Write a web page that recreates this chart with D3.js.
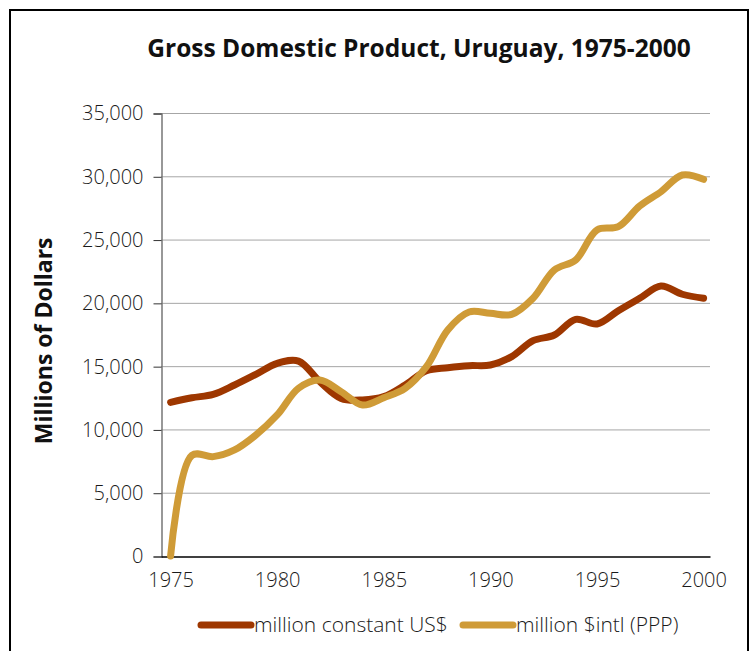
<!DOCTYPE html>
<html>
<head>
<meta charset="utf-8">
<script src="https://cdn.jsdelivr.net/npm/d3@7"></script>
<style>
  body { margin: 0; background: #fff; }
  text { font-family: "Open Sans", "DejaVu Sans", sans-serif; }
</style>
</head>
<body>
<div id="chart_root"></div>
<script>
const widthValue = 753;
const heightValue = 651;
const pad = { left: 161, right: 43, top: 113, bottom: 95 };

const years = d3.range(1975, 2001);
const constantUSD = [12140, 12500, 12770, 13510, 14350, 15220, 15400, 13770, 12450, 12330,
  12590, 13510, 14640, 14880, 15040, 15090, 15750, 17010, 17460, 18700, 18330, 19380,
  20360, 21330, 20680, 20360];
const intlPPP = [0, 7950, 7850, 8380, 9560, 11140, 13250, 13900, 12980, 11930,
  12510, 13250, 14960, 17860, 19280, 19170, 19090, 20360, 22600, 23390, 25760, 26020,
  27650, 28780, 30100, 29760];
const yTicks = [0, 5000, 10000, 15000, 20000, 25000, 30000, 35000];
const xTicks = [1975, 1980, 1985, 1990, 1995, 2000];
const seriesNames = ["million constant US$", "million $intl (PPP)"];
const colors = ["#9e3700", "#cf9b37"];

const svg = d3.select("#chart_root")
  .append("svg")
  .attr("width", widthValue)
  .attr("height", heightValue);

// frame
svg.append("rect")
  .attr("x", 10).attr("y", 10)
  .attr("width", 738).attr("height", 700)
  .attr("fill", "none")
  .attr("stroke", "#000")
  .attr("stroke-width", 2);

// title
svg.append("text")
  .attr("x", 419).attr("y", 57)
  .attr("text-anchor", "middle")
  .attr("font-size", 24.5)
  .attr("font-weight", "bold")
  .attr("fill", "#111")
  .text("Gross Domestic Product, Uruguay, 1975-2000");

// scales
var xScale = d3.scaleLinear()
  .domain([1974.55, 2000.3])
  .range([pad.left, widthValue - pad.right]);
var yScale = d3.scaleLinear()
  .domain([0, 35000])
  .range([heightValue - pad.bottom, pad.top]);

// gridlines
svg.append("g")
  .selectAll("line")
  .data(yTicks.slice(1))
  .join("line")
  .attr("x1", pad.left)
  .attr("x2", widthValue - pad.right)
  .attr("y1", (d) => yScale(d) + 0.5)
  .attr("y2", (d) => yScale(d) + 0.5)
  .attr("stroke", "#a6a6a6")
  .attr("stroke-width", 1);

// y axis
var yAxis = svg.append("g")
  .attr("transform", "translate(" + (pad.left + 0.5) + ",0.5)")
  .call(d3.axisLeft(yScale).tickValues(yTicks).tickSize(8).tickPadding(10)
    .tickFormat(d3.format(",")));
yAxis.select(".domain").attr("stroke", "#777").attr("stroke-width", 1.5);
yAxis.selectAll(".tick line").attr("stroke", "#333");
yAxis.selectAll(".tick text")
  .attr("font-size", 20)
  .attr("font-weight", 300)
  .attr("fill", "#1a1a1a")
  .style("font-family", "'Open Sans', sans-serif");

// x axis
var xAxis = svg.append("g")
  .attr("transform", "translate(0," + (yScale(0) + 0.5) + ")")
  .call(d3.axisBottom(xScale).tickValues(xTicks).tickSize(0).tickPadding(16)
    .tickFormat(d3.format("d")));
xAxis.select(".domain").attr("stroke", "#000").attr("stroke-width", 1.5);
xAxis.selectAll(".tick text")
  .attr("font-size", 20)
  .attr("font-weight", 300)
  .attr("fill", "#1a1a1a")
  .style("font-family", "'Open Sans', sans-serif");

// y axis title
svg.append("text")
  .attr("transform", "translate(52," + (yScale(17000)) + ") rotate(-90)")
  .attr("text-anchor", "middle")
  .attr("font-size", 23)
  .attr("font-weight", "bold")
  .attr("fill", "#111")
  .text("Millions of Dollars");

// lines
const line = d3.line()
  .x((d) => xScale(d.year))
  .y((d) => yScale(d.value))
  .curve(d3.curveCatmullRom.alpha(0.5));

[constantUSD, intlPPP].forEach((vals, i) => {
  svg.append("path")
    .datum(years.map((y, j) => ({ year: y, value: vals[j] })))
    .attr("fill", "none")
    .attr("stroke", colors[i])
    .attr("stroke-width", 7)
    .attr("stroke-linecap", "round")
    .attr("stroke-linejoin", "round")
    .attr("d", line);
});

// legend
const legendX = [201, 463];
const legend = svg.append("g");
seriesNames.forEach((name, i) => {
  legend.append("line")
    .attr("x1", legendX[i]).attr("x2", legendX[i] + 50)
    .attr("y1", 625).attr("y2", 625)
    .attr("stroke", colors[i])
    .attr("stroke-width", 7)
    .attr("stroke-linecap", "round");
  legend.append("text")
    .attr("x", legendX[i] + 53).attr("y", 632)
    .attr("font-size", 21)
    .attr("font-weight", 300)
    .attr("fill", "#1a1a1a")
    .text(name);
});
</script>
</body>
</html>
